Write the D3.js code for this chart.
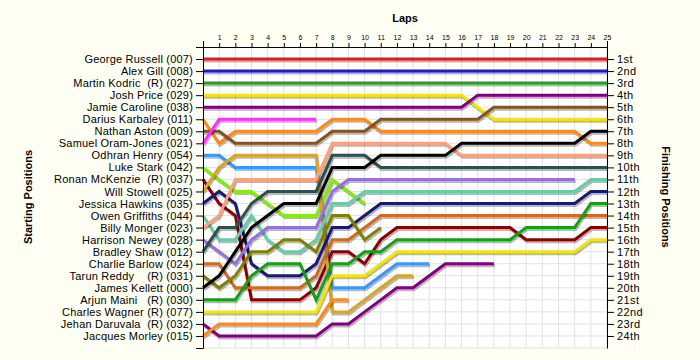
<!DOCTYPE html>
<html>
<head>
<meta charset="utf-8">
<script src="https://cdn.jsdelivr.net/npm/d3@7"></script>
<style>
  body { margin: 0; background: #fffff4; }
  text { font-family: "Liberation Sans", Arial, sans-serif; }
</style>
</head>
<body>
<div id="chart"></div>
<script>
// driver labels, in starting order
const drivers = [
  'George Russell (007)', 'Alex Gill (008)', 'Martin Kodric  (R) (027)', 'Josh Price (029)',
  'Jamie Caroline (038)', 'Darius Karbaley (011)', 'Nathan Aston (009)', 'Samuel Oram-Jones (021)',
  'Odhran Henry (054)', 'Luke Stark (042)', 'Ronan McKenzie  (R) (037)', 'Will Stowell (025)',
  'Jessica Hawkins (035)', 'Owen Griffiths (044)', 'Billy Monger (023)', 'Harrison Newey (028)',
  'Bradley Shaw (012)', 'Charlie Barlow (024)', 'Tarun Reddy    (R) (031)', 'James Kellett (000)',
  'Arjun Maini   (R) (030)', 'Charles Wagner (R) (077)', 'Jehan Daruvala  (R) (032)', 'Jacques Morley (015)'
];

const colours = [
  '#e8181c', '#1c1cc8', '#22a022', '#f5e600', '#800080', '#ff8a14', '#85531f', '#ff30ff',
  '#3399ff', '#80f000', '#8b0000', '#daa520', '#191970', '#66cdaa', '#ffa07a', '#9370db',
  '#2f4f4f', '#d2691e', '#808000', '#000000', '#14a014', '#f5e600', '#800080', '#ff8a14'
];

// lap numbers shown on top axis
const lapTicks = d3.range(1, 26);

const places = [
  '1st', '2nd', '3rd', '4th', '5th', '6th', '7th', '8th', '9th', '10th', '11th', '12th',
  '13th', '14th', '15th', '16th', '17th', '18th', '19th', '20th', '21st', '22nd', '23rd', '24th'
];

// position of each driver at lap 0, 1, 2 ... (shorter list = retired)
const russell   = [1,1,1,1,1,1,1,1,1,1,1,1,1,1,1,1,1,1,1,1,1,1,1,1,1,1];
const gill      = [2,2,2,2,2,2,2,2,2,2,2,2,2,2,2,2,2,2,2,2,2,2,2,2,2,2];
const kodric    = [3,3,3,3,3,3,3,3,3,3,3,3,3,3,3,3,3,3,3,3,3,3,3,3,3,3];
const price     = [4,4,4,4,4,4,4,4,4,4,4,4,4,4,4,4,4,5,6,6,6,6,6,6,6,6];
const caroline  = [5,5,5,5,5,5,5,5,5,5,5,5,5,5,5,5,5,4,4,4,4,4,4,4,4,4];
const karbaley  = [6,8,7,7,7,7,7,7,6,6,6,7,7,7,7,7,7,7,7,7,7,7,7,7,8,8];
const aston     = [7,7,8,8,8,8,8,8,7,7,7,6,6,6,6,6,6,6,5,5,5,5,5,5,5,5];
const oramJones = [8,6,6,6,6,6,6,6];
const henry     = [9,9,10,10,10,10,10,10,20,20,20,19,18,18,18];
const stark     = [10,11,12,12,13,14,14,14,11,12,13];
const mckenzie  = [11,13,14,21,21,21,21,20,17,17,18,16,15,15,15,15,15,15,15,15,16,16,16,16,15,15];
const stowell   = [12,10,9,9,9,9,9,9,22,22,21,20,19,19];
const hawkins   = [13,12,13,18,19,19,19,18,15,15,14,13,13,13,13,13,13,13,13,13,13,13,13,13,12,12];
const griffiths = [14,16,16,14,16,17,17,16,13,13,12,12,12,12,12,12,12,12,12,12,12,12,12,12,11,11];
const monger    = [15,14,11,11,11,11,11,11,8,8,8,8,8,8,8,8,9,9,9,9,9,9,9,9,9,9];
const newey     = [16,17,18,16,15,15,15,15,12,11,11,11,11,11,11,11,11,11,11,11,11,11,11,11];
const shaw      = [17,15,15,13,12,12,12,12,9,9,9,10,10,10,10,10,10,10,10,10,10,10,10,10,10,10];
const barlow    = [18,18,20,20,20,20,20,19,16,16,15,14,14,14,14,14,14,14,14,14,14,14,14,14,14,14];
const reddy     = [19,20,19,17,17,16,16,17,14,14,16,15];
const kellett   = [20,19,17,15,14,13,13,13,10,10,10,9,9,9,9,9,8,8,8,8,8,8,8,8,7,7];
const maini     = [21,21,21,19,18,18,18,21,18,18,17,17,16,16,16,16,16,16,16,16,15,15,15,15,13,13];
const wagner    = [22,22,22,22,22,22,22,22,19,19,19,18,17,17,17,17,17,17,17,17,17,17,17,17,16,16];
const daruvala  = [23,24,24,24,24,24,24,24,23,23,22,21,20,20,19,18,18,18,18];
const morley    = [24,23,23,23,23,23,23,23,21,21];

const series = [
  russell, gill, kodric, price, caroline, karbaley, aston, oramJones, henry, stark, mckenzie, stowell,
  hawkins, griffiths, monger, newey, shaw, barlow, reddy, kellett, maini, wagner, daruvala, morley
];

const width = 700;
const height = 360;

const svg = d3.select('#chart')
  .append('svg')
  .attr('width', width)
  .attr('height', height)
  .style('display', 'block');

svg.append('rect')
  .attr('width', width)
  .attr('height', height)
  .attr('fill', '#fffff4');

const x = d3.scaleLinear().domain([0, 25]).range([203, 607]);
const y = d3.scaleLinear().domain([0, 25]).range([47, 348]);

// plot area + grid
svg.append('rect')
  .attr('x', x(0))
  .attr('y', y(0))
  .attr('width', x(25) - x(0))
  .attr('height', y(25) - y(0))
  .attr('fill', '#ffffff');

svg.append('g')
  .selectAll('line')
  .data(lapTicks)
  .join('line')
  .attr('x1', d => x(d))
  .attr('x2', d => x(d))
  .attr('y1', y(0))
  .attr('y2', y(25))
  .attr('stroke', '#e2e2e2');

svg.append('g')
  .selectAll('line')
  .data(d3.range(1, 26))
  .join('line')
  .attr('x1', x(0))
  .attr('x2', x(25))
  .attr('y1', d => y(d))
  .attr('y2', d => y(d))
  .attr('stroke', '#e2e2e2');

// driver lines
const line = d3.line()
  .x((d, i) => x(i))
  .y(d => y(d));

const lines = svg.append('g');

series.forEach((s, i) => {
  lines.append('path')
    .attr('d', line(s))
    .attr('fill', 'none')
    .attr('stroke', '#000')
    .attr('stroke-opacity', 0.28)
    .attr('stroke-width', 3)
    .attr('transform', 'translate(1,2)');
  lines.append('path')
    .attr('d', line(s))
    .attr('fill', 'none')
    .attr('stroke', colours[i])
    .attr('stroke-width', 3);
});

// axes
const axisLeft = svg.append('g')
  .attr('transform', 'translate(' + x(0) + ',0)')
  .call(d3.axisLeft(y)
    .tickValues(d3.range(1, 25))
    .tickFormat(d => drivers[d - 1])
    .tickSize(7)
    .tickSizeOuter(7));

const axisRight = svg.append('g')
  .attr('transform', 'translate(' + x(25) + ',0)')
  .call(d3.axisRight(y)
    .tickValues(d3.range(1, 25))
    .tickFormat(d => places[d - 1])
    .tickSize(7)
    .tickSizeOuter(0));

const axisTop = svg.append('g')
  .attr('transform', 'translate(0,' + y(0) + ')')
  .call(d3.axisTop(x)
    .tickValues(lapTicks)
    .tickSize(4)
    .tickSizeOuter(6));

[axisLeft, axisRight, axisTop].forEach(g => {
  g.selectAll('path, line').attr('stroke', '#000');
  g.selectAll('text')
    .attr('fill', '#000')
    .style('font-family', '"Liberation Sans", Arial, sans-serif');
});

axisLeft.selectAll('text')
  .style('font-size', '11px')
  .style('letter-spacing', '0.2px')
  .style('white-space', 'pre');
axisRight.selectAll('text')
  .style('font-size', '11px')
  .style('letter-spacing', '0.4px');
axisTop.selectAll('text').style('font-size', '7px');

// titles
svg.append('text')
  .text('Laps')
  .attr('x', 405)
  .attr('y', 22)
  .attr('text-anchor', 'middle')
  .style('font-size', '11px')
  .style('font-weight', 'bold');

svg.append('text')
  .text('Starting Positions')
  .attr('transform', 'translate(32,197) rotate(-90)')
  .attr('text-anchor', 'middle')
  .style('font-size', '11px')
  .style('font-weight', 'bold');

svg.append('text')
  .text('Finishing Positions')
  .attr('transform', 'translate(662,197) rotate(90)')
  .attr('text-anchor', 'middle')
  .style('font-size', '11px')
  .style('font-weight', 'bold');
</script>
</body>
</html>
